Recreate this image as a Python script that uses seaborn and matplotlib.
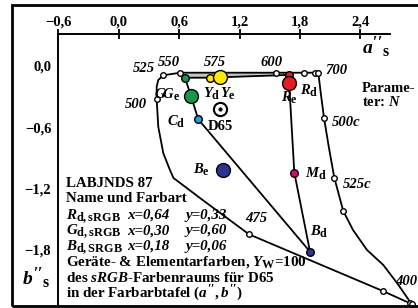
import matplotlib
matplotlib.use("Agg")
import matplotlib.pyplot as plt
import matplotlib._mathtext as _mt
from matplotlib.patches import Rectangle
import seaborn as sns
import numpy as np

_mt.SHRINK_FACTOR = 0.82  # larger subscripts, as in the reference

# ---------------- data (a'', b'') ----------------
# spectral locus: 400 end -> 475 -> 500 -> 525 -> 550 -> 575 -> 600 -> 700
locus_a = [2.908, 2.622, 1.294, 0.807, 0.544, 0.509, 0.443, 0.393, 0.377, 0.377, 0.393, 0.443, 0.612, 1.006, 1.562, 1.843, 1.949, 1.982]
locus_b = [-2.340, -2.212, -1.655, -1.298, -1.101, -1.023, -0.858, -0.597, -0.327, -0.204, -0.138, -0.091, -0.066, -0.066, -0.066, -0.066, -0.066, -0.066]
# complementary curve: 700 -> 500c -> 525c -> ... -> 400
comp_a = [1.982, 2.009, 2.039, 2.088, 2.141, 2.230, 2.327, 2.466, 2.628, 2.764, 2.833, 2.908]
comp_b = [-0.066, -0.285, -0.511, -0.806, -1.098, -1.426, -1.613, -1.809, -1.957, -2.134, -2.232, -2.340]
# small open circles on curves
open_a = [2.622, 2.890, 2.908, 1.294, 0.377, 0.443, 0.612, 1.562, 1.843, 1.949, 1.982, 2.039, 2.141, 2.230]
open_b = [-2.212, -2.330, -2.340, -1.655, -0.327, -0.091, -0.066, -0.066, -0.066, -0.066, -0.066, -0.511, -1.098, -1.426]

# device / elementary colours
pt_names = ["Gd", "Ge", "Cd", "Yd", "Ye", "Rd", "Re", "Be", "Md", "Bd"]
pt_a = [0.658, 0.718, 0.790, 0.907, 1.006, 1.688, 1.688, 1.039, 1.744, 1.900]
pt_b = [-0.115, -0.295, -0.524, -0.115, -0.111, -0.088, -0.164, -1.020, -1.049, -1.826]
pt_colors = ["#16984a", "#16984a", "#1e9fe0", "#ffe800", "#ffe800", "#e31e24", "#e31e24", "#2b3590", "#e5007d", "#2b3590"]
pt_big = [False, True, False, False, True, False, True, True, False, False]
d65_a, d65_b = 1.009, -0.423

# gamut polyline G-C-B and R-M-B, lower edge G-Y-R
gcb_a = [0.658, 0.718, 0.790, 1.900]
gcb_b = [-0.115, -0.295, -0.524, -1.826]
rmb_a = [1.688, 1.744, 1.900]
rmb_b = [-0.088, -1.049, -1.826]
gyr_a = [0.658, 0.907, 1.006, 1.688]
gyr_b = [-0.115, -0.115, -0.111, -0.088]

xticks = [-0.6, 0.0, 0.6, 1.2, 1.8, 2.4]
xticklabels = ["\u22120,6", "0,0", "0,6", "1,2", "1,8", "2,4"]
yticks = [0.0, -0.6, -1.2, -1.8]
yticklabels = ["0,0", "\u22120,6", "\u22121,2", "\u22121,8"]

# ---------------- style ----------------
sns.set_theme(style="white")
plt.rcParams.update({
    "font.family": ["Liberation Serif", "DejaVu Serif"],
    "font.weight": "bold",
    "mathtext.fontset": "custom",
    "mathtext.rm": "Liberation Serif:bold",
    "mathtext.it": "Liberation Serif:bold:italic",
    "mathtext.bf": "Liberation Serif:bold",
    "axes.facecolor": "white",
    "figure.facecolor": "white",
})

W, H = 418, 308
fig = plt.figure(figsize=(W / 100, H / 100), dpi=100)
ax = fig.add_axes([0, 0, 1, 1])
ax.set_xlim(-1.1787, 2.9722)
ax.set_ylim(-2.3795, 0.649)
ax.grid(False)

# axes lines
for s in ["right", "bottom"]:
    ax.spines[s].set_visible(False)
ax.spines["top"].set_position(("data", 0.3147))
ax.spines["top"].set_bounds(-0.6, 2.694)
ax.spines["left"].set_position(("data", -0.6))
ax.spines["left"].set_bounds(-2.36, 0.3147)
for s in ["top", "left"]:
    ax.spines[s].set_linewidth(1.4)
    ax.spines[s].set_color("black")
ax.xaxis.tick_top()
ax.set_xticks(xticks)
ax.set_xticklabels(xticklabels)
ax.set_yticks(yticks)
ax.set_yticklabels(yticklabels)
ax.tick_params(axis="both", direction="inout", length=7, width=1.3, color="black",
               labelsize=10.5, labelcolor="black")
ax.tick_params(axis="x", pad=0.5)
ax.tick_params(axis="y", pad=1.5)
for lab in ax.get_xticklabels() + ax.get_yticklabels():
    lab.set_fontweight("bold")

# frame
fig.add_artist(Rectangle((12 / W, 1 - 305.5 / H), 1.2, (305.5 - 5) / H, transform=fig.transFigure,
                         fill=False, lw=2.0, edgecolor="black", zorder=10))

# grey band between locus top and G-Y-R edge
ax.fill_between(gyr_a, gyr_b, [-0.066] * len(gyr_a), color="#c4c4c4", lw=0, zorder=1)

# curves
for xa, yb in [(locus_a, locus_b), (comp_a, comp_b), (gcb_a, gcb_b), (rmb_a, rmb_b), (gyr_a, gyr_b)]:
    sns.lineplot(x=xa, y=yb, sort=False, estimator=None, color="black", lw=1.3, ax=ax, zorder=2)

# open circles
sns.scatterplot(x=open_a, y=open_b, s=16, color="white", edgecolor="black", linewidth=1.0, ax=ax, zorder=3)

# D65
sns.scatterplot(x=[d65_a], y=[d65_b], s=90, color="white", edgecolor="black", linewidth=1.5, ax=ax, zorder=3)
sns.scatterplot(x=[d65_a], y=[d65_b], s=6, color="black", edgecolor="black", linewidth=0.5, ax=ax, zorder=4)

# colour points
for a, b, c, big in zip(pt_a, pt_b, pt_colors, pt_big):
    sns.scatterplot(x=[a], y=[b], s=(100 if big else 30), color=c, edgecolor="black",
                    linewidth=1.0, ax=ax, zorder=(5 if big else 4))

if ax.get_legend():
    ax.get_legend().remove()


def T(x, y, s, size=10.5, **kw):
    fig.text(x / W, 1 - y / H, s, fontsize=size, ha=kw.pop("ha", "left"), va=kw.pop("va", "baseline"),
             color="black", fontweight="bold", zorder=8, **kw)


# wavelength labels (italic bold)
for x, y, s in [(133.3, 72.5, "525"), (158.3, 65.7, "550"), (204, 65.7, "575"), (260.7, 65.7, "600"),
                (325, 74, "700"), (125, 107.7, "500"), (331.7, 125.7, "500c"), (343.3, 187.5, "525c"),
                (245, 222.5, "475"), (395.5, 285, "400")]:
    T(x, y, s, style="italic")

# colour labels
T(166.7, 126, r"$C_\mathrm{d}$")
T(192.7, 174, r"$B_\mathrm{e}$")
T(305, 178, r"$M_\mathrm{d}$")
T(310, 236, r"$B_\mathrm{d}$")
T(203.3, 98, r"$Y_\mathrm{d}$")
T(220.3, 98, r"$Y_\mathrm{e}$")
T(300, 94.5, r"$R_\mathrm{d}$")
T(281, 101.5, r"$R_\mathrm{e}$")
T(154, 99, r"$G\!G_\mathrm{e}$")
T(207.3, 129.5, "D65")
T(361.7, 92, "Parame-")
T(361.7, 106.5, r"ter: $N$")

# axis names
T(362, 54, r"$a''_\mathrm{s}$", size=14)
T(22, 285, r"$b''_\mathrm{s}$", size=14)

# info block
fs = 10.8
T(66, 186.7, "LABJNDS 87", size=fs)
T(66, 202.5, "Name und Farbart", size=fs)
rows = [(r"$R_\mathrm{d,sRGB}$", "x=0,64", "y=0,33"),
        (r"$G_\mathrm{d,sRGB}$", "x=0,30", "y=0,60"),
        (r"$B_\mathrm{d,SRGB}$", "x=0,18", "y=0,06")]
for i, (n, xs, ys) in enumerate(rows):
    yb = 218.6 + i * 15.6
    T(66, yb, n, size=fs)
    T(126.7, yb, xs, size=fs, style="italic")
    T(185, yb, ys, size=fs, style="italic")
T(66, 265.7, r"Geräte- & Elementarfarben, $Y_\mathrm{W}$=100", size=fs)
T(66, 281.5, r"des $sRGB$-Farbenraums für D65", size=fs)
T(66, 297.3, r"in der Farbarbtafel $(a'', b'')$", size=fs)

fig.savefig("out.png", dpi=100)
